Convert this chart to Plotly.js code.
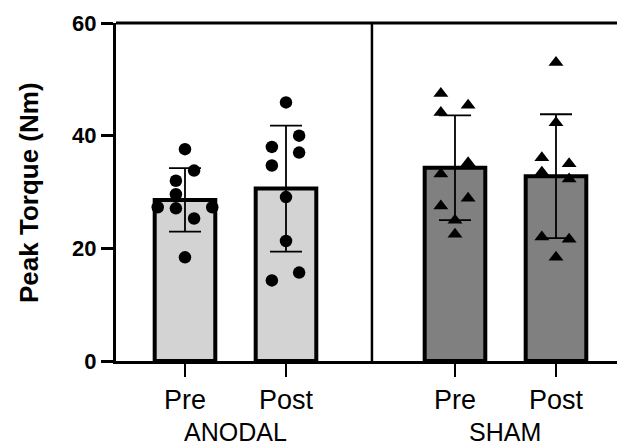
<!DOCTYPE html>
<html>
<head>
<meta charset="utf-8">
<script src="https://cdn.plot.ly/plotly-3.0.1.min.js"></script>
<style>html,body{margin:0;padding:0;background:#fff;}#chart{width:617px;height:448px;}</style>
</head>
<body>
<div id="chart"></div>
<script>
// ---- data ----
const groups = ["ANODAL", "SHAM"];
const timepoints = ["Pre", "Post"];
const tickLabels = ["Pre", "Post", "Pre", "Post"];
const yTitle = "Peak Torque (Nm)";
const barMeans = [28.6, 30.6, 34.3, 32.8];
const barSD = [5.65, 11.2, 9.3, 11.0];

const anodalPre  = [37.6, 33.8, 32.0, 29.6, 27.3, 27.1, 27.3, 25.3, 18.4];
const anodalPost = [45.9, 40.0, 38.0, 37.0, 34.7, 29.1, 21.3, 15.7, 14.3];
const shamPre    = [47.5, 45.4, 44.1, 35.2, 33.2, 28.9, 27.5, 25.0, 22.5];
const shamPost   = [53.0, 42.3, 36.1, 35.0, 33.5, 32.3, 22.0, 21.6, 18.4];

// horizontal scatter jitter (category units)
const anodalPreJitter  = [0, 0.09, -0.09, -0.09, -0.27, -0.09, 0.27, 0.09, 0];
const anodalPostJitter = [0, 0.13, -0.14, 0.13, -0.14, 0, 0, 0.13, -0.14];
const shamPreJitter    = [-0.14, 0.13, -0.14, 0.13, -0.14, 0.13, -0.14, 0, 0];
const shamPostJitter   = [0, 0, -0.14, 0.13, -0.14, 0.13, -0.14, 0.13, 0];

// ---- layout constants ----
const pos = [0, 1, 2.673, 3.673];
const divider = 1.851;
const FONT = "Arial, 'Liberation Sans', Helvetica, sans-serif";

const barColors = ["#d3d3d3", "#d3d3d3", "#808080", "#808080"];

const traces = [{
  type: "bar",
  x: pos,
  y: barMeans,
  width: 0.6,
  marker: {color: barColors, line: {color: "#000", width: 4}},
  error_y: {type: "data", array: barSD, visible: true, color: "#000", thickness: 1.8, width: 16},
  hoverinfo: "skip"
}];

const pointSets = [
  [anodalPre, anodalPreJitter, 0, "circle", 12.5],
  [anodalPost, anodalPostJitter, 1, "circle", 12.5],
  [shamPre, shamPreJitter, 2, "triangle-up", 13],
  [shamPost, shamPostJitter, 3, "triangle-up", 13]
];
pointSets.forEach(([vals, jit, i, sym, sz]) => {
  traces.push({
    type: "scatter", mode: "markers",
    x: vals.map((v, k) => pos[i] + jit[k]),
    y: vals,
    marker: {color: "#000", symbol: sym, size: sz, line: {width: 0}},
    hoverinfo: "skip"
  });
});

const annotations = groups.map((g, gi) => ({
  text: g, xref: "x", yref: "paper",
  x: (pos[gi * 2] + pos[gi * 2 + 1]) / 2, y: 0, yshift: -86,
  showarrow: false, yanchor: "bottom", borderpad: 0,
  font: {size: 25, family: FONT, color: "#000"}
}));
annotations.push({
  text: "<b>" + yTitle + "</b>", xref: "paper", yref: "paper",
  x: -0.1737, y: 0.5, textangle: -90, showarrow: false,
  xanchor: "center", yanchor: "middle", borderpad: 0,
  font: {size: 26, family: FONT, color: "#000"}
});

const layout = {
  width: 617, height: 448,
  margin: {l: 116, r: 0, t: 23, b: 87},
  paper_bgcolor: "#fff", plot_bgcolor: "#fff",
  showlegend: false,
  font: {family: FONT, color: "#000"},
  xaxis: {
    range: [-0.683, 4.277],
    tickvals: pos, ticktext: tickLabels,
    ticks: "outside", ticklen: 13, tickwidth: 2.5, tickcolor: "#000",
    showline: true, linewidth: 3, linecolor: "#000",
    showgrid: false, zeroline: false,
    tickfont: {size: 27, family: FONT, color: "#000"}
  },
  yaxis: {
    range: [0, 60],
    tickvals: [0, 20, 40, 60],
    ticks: "outside", ticklen: 12, tickwidth: 3, tickcolor: "#000",
    showline: true, linewidth: 3, linecolor: "#000",
    showgrid: false, zeroline: false,
    tickfont: {size: 22, family: FONT, color: "#000", weight: "bold"}
  },
  shapes: [
    {type: "line", xref: "paper", yref: "paper", x0: 0, x1: 1, y0: 1, y1: 1, line: {color: "#000", width: 3}},
    {type: "line", xref: "x", yref: "y", x0: divider, x1: divider, y0: 0, y1: 60, line: {color: "#000", width: 2.5}}
  ],
  annotations: annotations
};

Plotly.newPlot("chart", traces, layout, {displayModeBar: false, staticPlot: true});
</script>
</body>
</html>
